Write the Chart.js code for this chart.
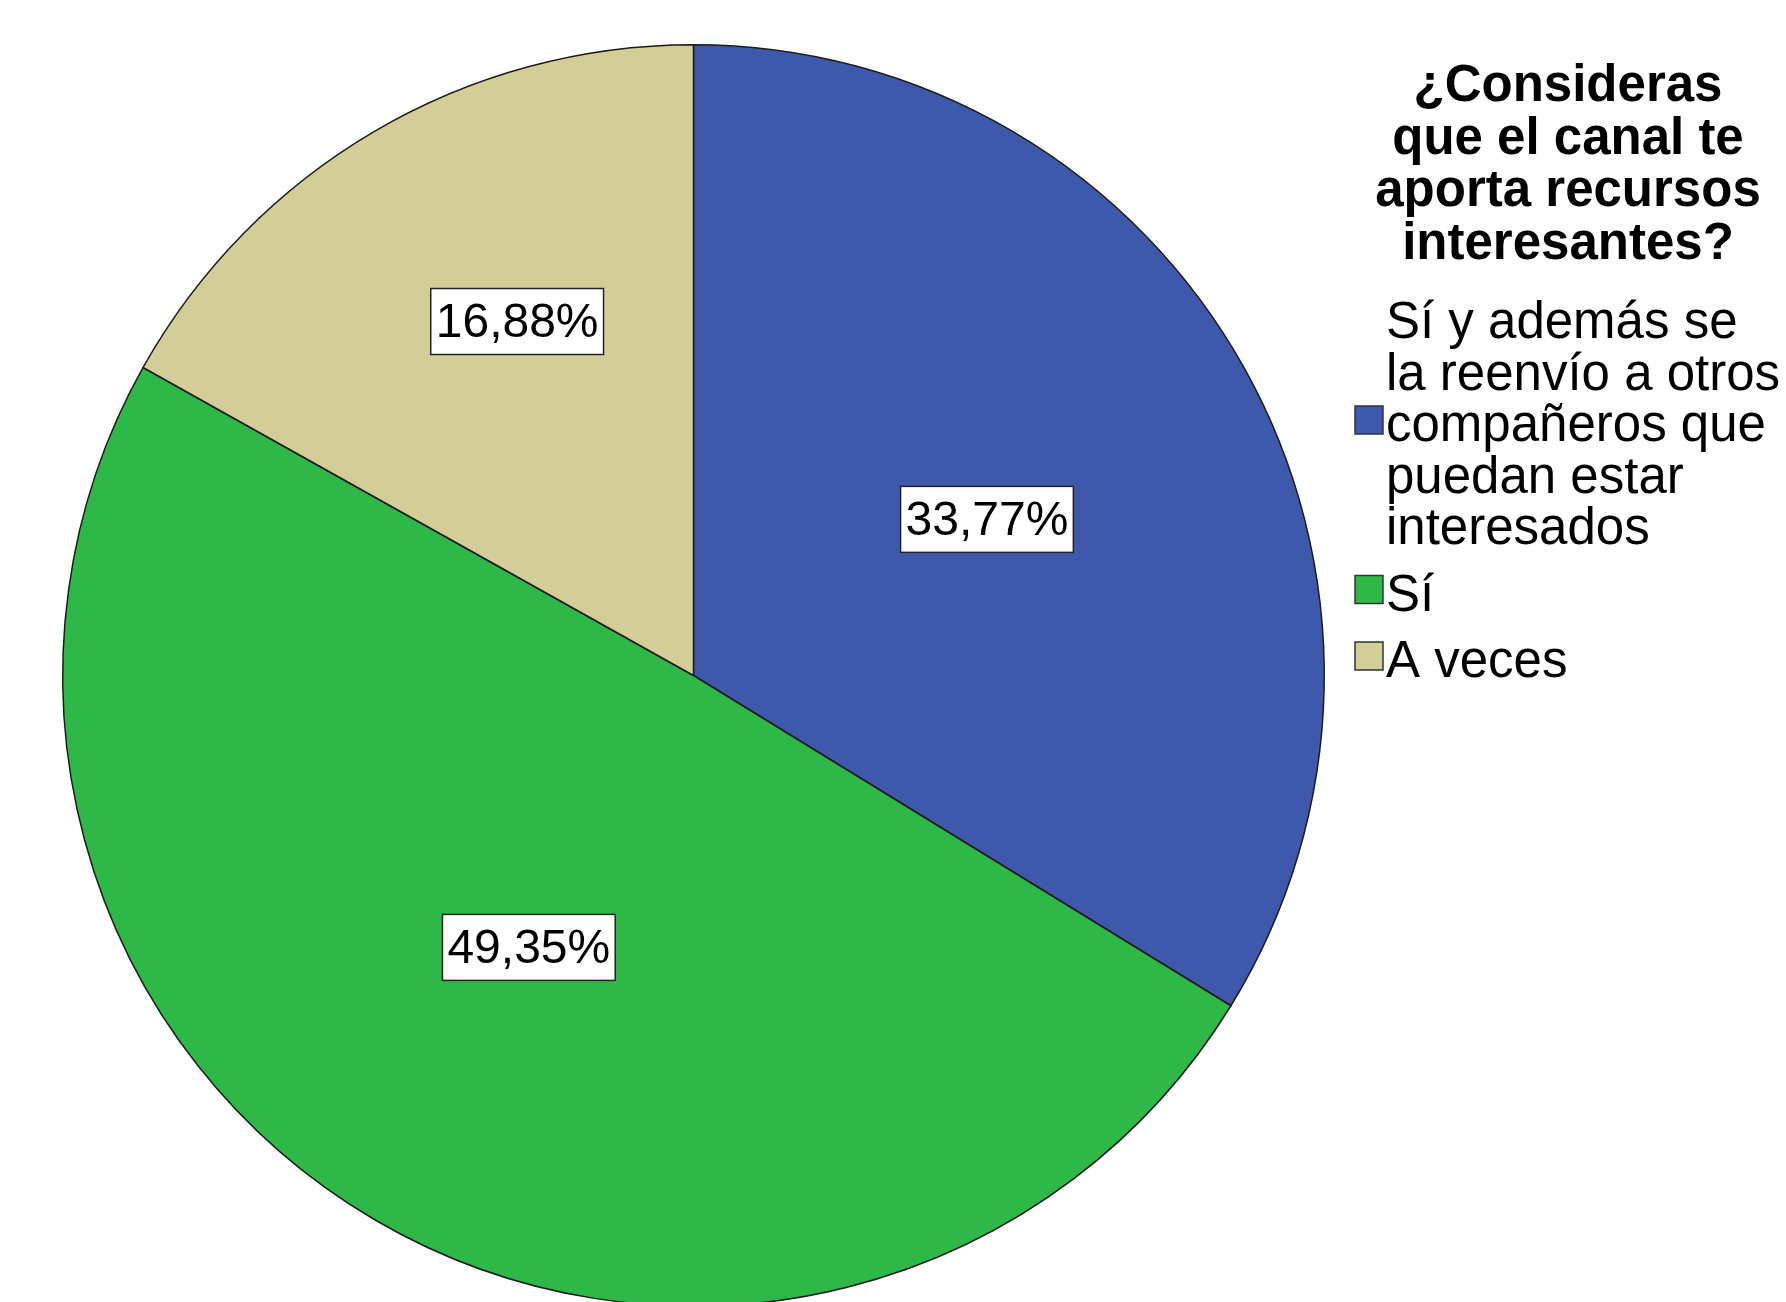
<!DOCTYPE html>
<html>
<head>
<meta charset="utf-8">
<script src="https://cdn.jsdelivr.net/npm/chart.js@4.4.1/dist/chart.umd.min.js"></script>
<style>
  html, body { margin: 0; padding: 0; background: #fff; overflow: hidden; }
  #wrap { width: 1786px; height: 1302px; overflow: hidden; }
</style>
</head>
<body>
<div id="wrap"><canvas id="pieChart" width="1786" height="1320"></canvas></div>
<script>
// datos del gráfico
const titleLines = ['¿Consideras', 'que el canal te', 'aporta recursos', 'interesantes?'];
const categories = [
    ['Sí y además se', 'la reenvío a otros', 'compañeros que', 'puedan estar', 'interesados'],
    ['Sí'],
    ['A veces']
];
const percents = [33.77, 49.35, 16.88];
const colors = ['#3e58ac', '#2eb848', '#d3ce98'];

// etiquetas con porcentaje dentro de cada sector
const sliceLabels = {
    id: 'sliceLabels',
    afterDatasetsDraw(chart, args, opts) {
        const ctx = chart.ctx;
        const meta = chart.getDatasetMeta(0);
        ctx.save();
        ctx.font = '48px "Liberation Sans", Arial, sans-serif';
        ctx.textAlign = 'center';
        ctx.textBaseline = 'middle';
        meta.data.forEach((arc, i) => {
            const p = arc.getProps(['x', 'y', 'startAngle', 'endAngle', 'outerRadius'], true);
            const mid = (p.startAngle + p.endAngle) / 2 + opts.angleShift[i] * Math.PI / 180;
            const r = p.outerRadius * opts.radius[i];
            const cx = p.x + Math.cos(mid) * r;
            const cy = p.y + Math.sin(mid) * r;
            const txt = percents[i].toFixed(2).replace('.', ',') + '%';
            const w = ctx.measureText(txt).width + 10;
            const h = 66;
            ctx.fillStyle = '#fff';
            ctx.fillRect(cx - w / 2, cy - h / 2, w, h);
            ctx.strokeStyle = '#222';
            ctx.lineWidth = 1.5;
            ctx.strokeRect(cx - w / 2, cy - h / 2, w, h);
            ctx.fillStyle = '#000';
            ctx.fillText(txt, cx, cy + 2);
        });
        ctx.restore();
    }
};

// título y leyenda a la derecha
const sideLegend = {
    id: 'sideLegend',
    afterDraw(chart) {
        const ctx = chart.ctx;
        ctx.save();
        ctx.fillStyle = '#000';
        ctx.textAlign = 'center';
        ctx.textBaseline = 'middle';
        ctx.font = 'bold 51px "Liberation Sans", Arial, sans-serif';
        titleLines.forEach((t, i) => ctx.fillText(t, 1568, 87 + i * 52.5));

        ctx.textAlign = 'left';
        ctx.font = '51px "Liberation Sans", Arial, sans-serif';
        const ds = chart.data.datasets[0];
        let y = 324;
        categories.forEach((lines, i) => {
            const boxY = y + (lines.length - 1) / 2 * 51.5;
            lines.forEach((t, j) => ctx.fillText(t, 1386, y + j * 51.5));
            ctx.fillStyle = ds.backgroundColor[i];
            ctx.fillRect(1355, boxY - 15 - 6, 28, 28);
            ctx.strokeStyle = '#333';
            ctx.lineWidth = 1.5;
            ctx.strokeRect(1355, boxY - 15 - 6, 28, 28);
            ctx.fillStyle = '#000';
            y += lines.length * 51.5 + 15;
        });
        ctx.restore();
    }
};

const ctx = document.getElementById('pieChart').getContext('2d');

const pieChart = new Chart(ctx, {
    type: 'pie',
    data: {
        labels: categories.map(l => l.join(' ')),
        datasets: [{
            data: percents,
            backgroundColor: colors,
            borderColor: '#1c1c1c',
            borderWidth: 1.5
        }]
    },
    options: {
        responsive: false,
        animation: false,
        devicePixelRatio: 1,
        layout: {
            padding: { left: 62, top: 44, right: 461, bottom: 13 }
        },
        plugins: {
            legend: { display: false },
            tooltip: { enabled: false },
            sliceLabels: {
                radius: [0.527, 0.504, 0.627],
                angleShift: [1.2, 0.8, 3.9]
            }
        }
    },
    plugins: [sliceLabels, sideLegend]
});
</script>
</body>
</html>
